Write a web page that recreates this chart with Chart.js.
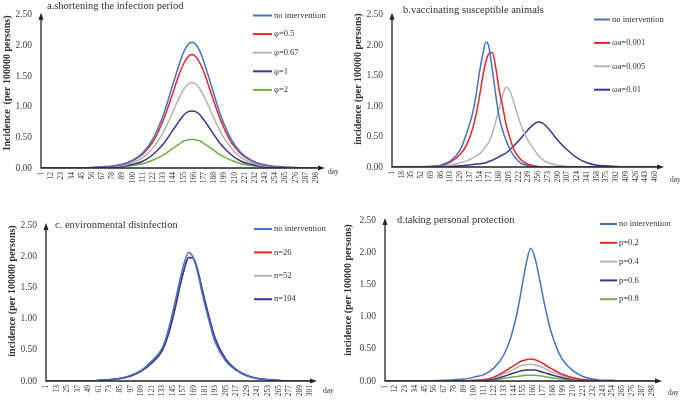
<!DOCTYPE html>
<html lang="en">
<head>
<meta charset="UTF-8" />
<title>Incidence under interventions</title>
<script src="https://cdn.jsdelivr.net/npm/chart.js"></script>
<style>
  body { margin: 0; background: #fff; }
  #wrap { position: relative; width: 680px; height: 403px; }
  canvas { position: absolute; }
</style>
</head>
<body>
<div id="wrap">
  <canvas id="chartA" width="340" height="200" style="left:0;top:0"></canvas>
  <canvas id="chartB" width="340" height="200" style="left:340px;top:0"></canvas>
  <canvas id="chartC" width="340" height="203" style="left:0;top:200px"></canvas>
  <canvas id="chartD" width="340" height="203" style="left:340px;top:200px"></canvas>
</div>

<script>
// ---- tick labels ----
const yTicks = [0, 0.5, 1, 1.5, 2, 2.5];
const xTicksA = [1, 12, 23, 34, 45, 56, 67, 78, 89, 100, 111, 122, 133, 144, 155, 166, 177, 188, 199, 210, 221, 232, 243, 254, 265, 276, 287, 298];
const xTicksB = [1, 18, 35, 52, 69, 86, 103, 120, 137, 154, 171, 188, 205, 222, 239, 256, 273, 290, 307, 324, 341, 358, 375, 392, 409, 426, 443, 460];
const xTicksC = [1, 13, 25, 37, 49, 61, 73, 85, 97, 109, 121, 133, 145, 157, 169, 181, 193, 205, 217, 229, 241, 253, 265, 277, 289, 301];
const xTicksD = [1, 12, 23, 34, 45, 56, 67, 78, 89, 100, 111, 122, 133, 144, 155, 166, 177, 188, 199, 210, 221, 232, 243, 254, 265, 276, 287, 298];

// ---- a. shortening the infection period ----
const daysA = [1, 23, 45, 56, 67, 78, 89, 100, 111, 122, 133, 144, 150, 155, 160, 164, 168, 173, 178, 184, 195, 206, 217, 228, 239, 250, 261, 272, 287, 298];
const aNone  = [0, 0, 0, 0.01, 0.02, 0.03, 0.06, 0.13, 0.25, 0.48, 0.86, 1.39, 1.68, 1.89, 2.02, 2.05, 2.02, 1.89, 1.68, 1.39, 0.86, 0.48, 0.25, 0.13, 0.06, 0.03, 0.02, 0.01, 0, 0];
const aPhi05 = [0, 0, 0, 0.01, 0.01, 0.03, 0.06, 0.12, 0.23, 0.43, 0.78, 1.25, 1.52, 1.70, 1.82, 1.85, 1.82, 1.70, 1.52, 1.25, 0.78, 0.43, 0.23, 0.12, 0.06, 0.03, 0.01, 0.01, 0, 0];
const aPhi067 = [0, 0, 0, 0, 0.01, 0.02, 0.04, 0.09, 0.17, 0.33, 0.58, 0.94, 1.14, 1.28, 1.37, 1.39, 1.37, 1.28, 1.14, 0.94, 0.58, 0.33, 0.17, 0.09, 0.04, 0.02, 0.01, 0, 0, 0];
const aPhi1  = [0, 0, 0, 0, 0.01, 0.01, 0.03, 0.06, 0.11, 0.22, 0.39, 0.63, 0.76, 0.86, 0.92, 0.93, 0.92, 0.86, 0.76, 0.63, 0.39, 0.22, 0.11, 0.06, 0.03, 0.01, 0.01, 0, 0, 0];
const aPhi2  = [0, 0, 0, 0, 0.01, 0.01, 0.02, 0.04, 0.07, 0.13, 0.21, 0.33, 0.39, 0.44, 0.46, 0.47, 0.46, 0.44, 0.39, 0.33, 0.21, 0.13, 0.07, 0.04, 0.02, 0.01, 0.01, 0, 0, 0];

// ---- b. vaccinating susceptible animals ----
const daysB = [1, 35, 69, 86, 103, 120, 131, 142, 148, 154, 160, 165, 170, 176, 182, 188, 194, 200, 206, 213, 222, 231, 240, 248, 256, 264, 273, 290, 307, 324, 341, 358, 375, 409, 443, 460];
const bNone = [0, 0, 0.01, 0.03, 0.10, 0.28, 0.55, 0.90, 1.20, 1.58, 1.88, 2.05, 1.97, 1.60, 1.18, 0.82, 0.60, 0.44, 0.30, 0.19, 0.09, 0.04, 0.02, 0.01, 0, 0, 0, 0, 0, 0, 0, 0, 0, 0, 0, 0];
const bW001 = [0, 0, 0.01, 0.02, 0.08, 0.21, 0.36, 0.64, 0.88, 1.18, 1.52, 1.74, 1.86, 1.88, 1.63, 1.26, 1.00, 0.70, 0.50, 0.30, 0.16, 0.08, 0.04, 0.02, 0.01, 0, 0, 0, 0, 0, 0, 0, 0, 0, 0, 0];
const bW005 = [0, 0, 0, 0.01, 0.03, 0.07, 0.10, 0.15, 0.19, 0.22, 0.28, 0.35, 0.41, 0.55, 0.75, 0.97, 1.18, 1.31, 1.26, 1.08, 0.80, 0.57, 0.41, 0.30, 0.19, 0.12, 0.07, 0.03, 0.01, 0, 0, 0, 0, 0, 0, 0];
const bW01  = [0, 0, 0, 0, 0.01, 0.02, 0.03, 0.04, 0.05, 0.05, 0.06, 0.07, 0.09, 0.11, 0.14, 0.17, 0.20, 0.23, 0.28, 0.34, 0.43, 0.53, 0.63, 0.70, 0.74, 0.72, 0.64, 0.44, 0.28, 0.15, 0.07, 0.03, 0.02, 0, 0, 0];

// ---- c. environmental disinfection ----
const daysC = [1, 25, 49, 61, 73, 85, 97, 109, 121, 133, 141, 148, 153, 158, 163, 168, 173, 178, 185, 193, 205, 217, 229, 241, 253, 265, 277, 289, 301];
const cNone = [0, 0, 0, 0.01, 0.02, 0.04, 0.09, 0.17, 0.32, 0.53, 0.88, 1.30, 1.62, 1.90, 2.06, 1.98, 1.75, 1.42, 1.02, 0.62, 0.32, 0.17, 0.08, 0.04, 0.02, 0.01, 0, 0, 0];
const cN26  = [0, 0, 0, 0.01, 0.02, 0.04, 0.08, 0.16, 0.29, 0.49, 0.80, 1.20, 1.52, 1.80, 1.98, 1.97, 1.78, 1.48, 1.08, 0.68, 0.35, 0.18, 0.09, 0.04, 0.02, 0.01, 0, 0, 0];
const cN52  = [0, 0, 0, 0.01, 0.02, 0.04, 0.08, 0.16, 0.29, 0.49, 0.80, 1.20, 1.52, 1.80, 1.98, 1.97, 1.78, 1.48, 1.08, 0.68, 0.35, 0.18, 0.09, 0.04, 0.02, 0.01, 0, 0, 0];
const cN104 = [0, 0, 0, 0.01, 0.02, 0.04, 0.08, 0.16, 0.29, 0.49, 0.80, 1.20, 1.52, 1.80, 1.98, 1.97, 1.78, 1.48, 1.08, 0.68, 0.35, 0.18, 0.09, 0.04, 0.02, 0.01, 0, 0, 0];

// ---- d. taking personal protection ----
const daysD = [1, 23, 45, 67, 78, 89, 100, 111, 122, 133, 141, 148, 153, 158, 163, 168, 173, 178, 185, 193, 199, 210, 221, 232, 243, 254, 265, 276, 298];
const dNone = [0, 0, 0, 0.01, 0.02, 0.03, 0.06, 0.10, 0.20, 0.40, 0.68, 1.06, 1.44, 1.82, 2.06, 1.90, 1.58, 1.22, 0.80, 0.48, 0.32, 0.16, 0.07, 0.03, 0.01, 0.01, 0, 0, 0];
const dP02  = [0, 0, 0, 0, 0, 0, 0.01, 0.02, 0.06, 0.14, 0.21, 0.27, 0.31, 0.33, 0.34, 0.33, 0.30, 0.26, 0.20, 0.14, 0.10, 0.05, 0.02, 0.01, 0, 0, 0, 0, 0];
const dP04  = [0, 0, 0, 0, 0, 0, 0.01, 0.02, 0.05, 0.11, 0.16, 0.21, 0.24, 0.25, 0.26, 0.25, 0.23, 0.20, 0.15, 0.11, 0.08, 0.04, 0.02, 0.01, 0, 0, 0, 0, 0];
const dP06  = [0, 0, 0, 0, 0, 0, 0, 0.01, 0.03, 0.07, 0.11, 0.14, 0.16, 0.17, 0.17, 0.17, 0.15, 0.13, 0.10, 0.07, 0.05, 0.03, 0.01, 0.01, 0, 0, 0, 0, 0];
const dP08  = [0, 0, 0, 0, 0, 0, 0, 0.01, 0.02, 0.04, 0.06, 0.07, 0.08, 0.09, 0.09, 0.09, 0.08, 0.07, 0.05, 0.04, 0.03, 0.01, 0.01, 0, 0, 0, 0, 0, 0];

const BLUE = '#4472c4', RED = '#e8262b', GRAY = '#b4b4b4', PURPLE = '#3c3490', GREEN = '#70ad47';
const SERIF = '"Liberation Serif", "Times New Roman", serif';
Chart.defaults.font.family = SERIF;

// axes with arrows, panel title, rotated y title and the legend
const decor = {
    id: 'decor',
    afterDraw(chart, args, o) {
        const ctx = chart.ctx;
        const a = chart.chartArea;
        ctx.save();
        ctx.strokeStyle = '#222';
        ctx.fillStyle = '#222';
        ctx.lineWidth = 1.3;
        ctx.beginPath();
        ctx.moveTo(a.left, a.top + 3);
        ctx.lineTo(a.left, a.bottom);
        ctx.lineTo(a.right - 3, a.bottom);
        ctx.stroke();
        ctx.beginPath();
        ctx.moveTo(a.left, a.top - 2);
        ctx.lineTo(a.left - 2.5, a.top + 5);
        ctx.lineTo(a.left + 2.5, a.top + 5);
        ctx.closePath();
        ctx.fill();
        ctx.beginPath();
        ctx.moveTo(a.right + 2, a.bottom);
        ctx.lineTo(a.right - 5, a.bottom - 2.5);
        ctx.lineTo(a.right - 5, a.bottom + 2.5);
        ctx.closePath();
        ctx.fill();

        ctx.fillStyle = '#333';
        ctx.textBaseline = 'middle';
        ctx.textAlign = 'left';
        ctx.font = '7.5px ' + SERIF;
        ctx.fillText('day', o.dayX, o.dayY);

        ctx.font = '10.5px ' + SERIF;
        ctx.fillText(o.title, o.titleX, o.titleY);

        ctx.save();
        ctx.translate(o.yTitleX, o.yTitleY);
        ctx.rotate(-Math.PI / 2);
        ctx.textAlign = 'center';
        ctx.font = 'bold 10px ' + SERIF;
        ctx.fillText(o.yTitle, 0, 0);
        ctx.restore();

        ctx.font = '8.5px ' + SERIF;
        chart.data.datasets.forEach((ds, i) => {
            const y = o.legY + i * o.legGap;
            ctx.strokeStyle = ds.borderColor;
            ctx.lineWidth = 2;
            ctx.beginPath();
            ctx.moveTo(o.legX, y);
            ctx.lineTo(o.legX + o.legLen, y);
            ctx.stroke();
            ctx.fillText(ds.label, o.legX + o.legLen + 2, y);
        });
        ctx.restore();
    }
};

function makePanel(id, days, series, xTicks, xMax, box, deco) {
    const canvas = document.getElementById(id);
    return new Chart(canvas, {
        type: 'line',
        data: {
            datasets: series.map((s, i) => ({
                label: s.label,
                data: days.map((d, j) => ({ x: d, y: s.values[j] })),
                borderColor: s.color,
                borderWidth: 1.5,
                pointRadius: 0,
                cubicInterpolationMode: 'monotone',
                order: s.order !== undefined ? s.order : i
            }))
        },
        options: {
            responsive: false,
            animation: false,
            events: [],
            layout: { padding: { left: 0, top: box.top, right: canvas.width - box.right, bottom: 0 } },
            plugins: { legend: { display: false }, tooltip: { enabled: false }, decor: deco },
            scales: {
                x: {
                    type: 'linear',
                    min: 1,
                    max: xMax,
                    grid: { display: false, drawTicks: false },
                    border: { display: false },
                    afterBuildTicks: scale => { scale.ticks = xTicks.map(v => ({ value: v })); },
                    afterFit: scale => { scale.height = canvas.height - box.bottom; },
                    ticks: {
                        autoSkip: false,
                        minRotation: 90,
                        maxRotation: 90,
                        padding: 4,
                        color: '#333',
                        font: { size: 7.5 }
                    }
                },
                y: {
                    min: 0,
                    max: 2.5,
                    grid: { display: false, drawTicks: false },
                    border: { display: false },
                    afterBuildTicks: scale => { scale.ticks = yTicks.map(v => ({ value: v })); },
                    afterFit: scale => { scale.width = box.left; },
                    ticks: {
                        padding: 9,
                        color: '#444',
                        font: { size: 9.5 },
                        callback: v => v.toFixed(2)
                    }
                }
            }
        },
        plugins: [decor]
    });
}

makePanel('chartA', daysA, [
    { label: 'no intervention', values: aNone, color: BLUE },
    { label: 'φ=0.5', values: aPhi05, color: RED },
    { label: 'φ=0.67', values: aPhi067, color: GRAY },
    { label: 'φ=1', values: aPhi1, color: PURPLE },
    { label: 'φ=2', values: aPhi2, color: GREEN }
], xTicksA, 305.5, { left: 41, top: 12, right: 323, bottom: 168 }, {
    title: 'a.shortening the infection period', titleX: 47, titleY: 6,
    yTitle: 'Incidence  (per 100000 persons)', yTitleX: 7, yTitleY: 83,
    dayX: 328, dayY: 172,
    legX: 253, legY: 15.5, legGap: 18.6, legLen: 19
});

makePanel('chartB', daysB, [
    { label: 'no intervention', values: bNone, color: BLUE },
    { label: 'ωa=0.001', values: bW001, color: RED },
    { label: 'ωa=0.005', values: bW005, color: GRAY },
    { label: 'ωa=0.01', values: bW01, color: PURPLE }
], xTicksB, 472, { left: 52, top: 10, right: 322, bottom: 167 }, {
    title: 'b.vaccinating susceptible animals', titleX: 63, titleY: 10,
    yTitle: 'incidence (per 100000 persons)', yTitleX: 18, yTitleY: 79,
    dayX: 330, dayY: 180,
    legX: 254, legY: 19.5, legGap: 23.4, legLen: 16
});

makePanel('chartC', daysC, [
    { label: 'no intervention', values: cNone, color: BLUE, order: 0 },
    { label: 'n=26', values: cN26, color: RED, order: 3 },
    { label: 'n=52', values: cN52, color: GRAY, order: 2 },
    { label: 'n=104', values: cN104, color: PURPLE, order: 1 }
], xTicksC, 306.3, { left: 46, top: 25, right: 315, bottom: 181 }, {
    title: 'c. environmental disinfection', titleX: 55, titleY: 25,
    yTitle: 'incidence (per 100000 persons)', yTitleX: 12, yTitleY: 91,
    dayX: 323, dayY: 191,
    legX: 254, legY: 29, legGap: 23.4, legLen: 18
});

makePanel('chartD', daysD, [
    { label: 'no intervention', values: dNone, color: BLUE },
    { label: 'p=0.2', values: dP02, color: RED },
    { label: 'p=0.4', values: dP04, color: GRAY },
    { label: 'p=0.6', values: dP06, color: PURPLE },
    { label: 'p=0.8', values: dP08, color: GREEN }
], xTicksD, 306.9, { left: 45, top: 20, right: 320, bottom: 181 }, {
    title: 'd.taking personal protection', titleX: 57, titleY: 20,
    yTitle: 'incidence (per 100000 persons)', yTitleX: 8, yTitleY: 90,
    dayX: 328, dayY: 193,
    legX: 260, legY: 24, legGap: 18.8, legLen: 17
});
</script>
</body>
</html>
